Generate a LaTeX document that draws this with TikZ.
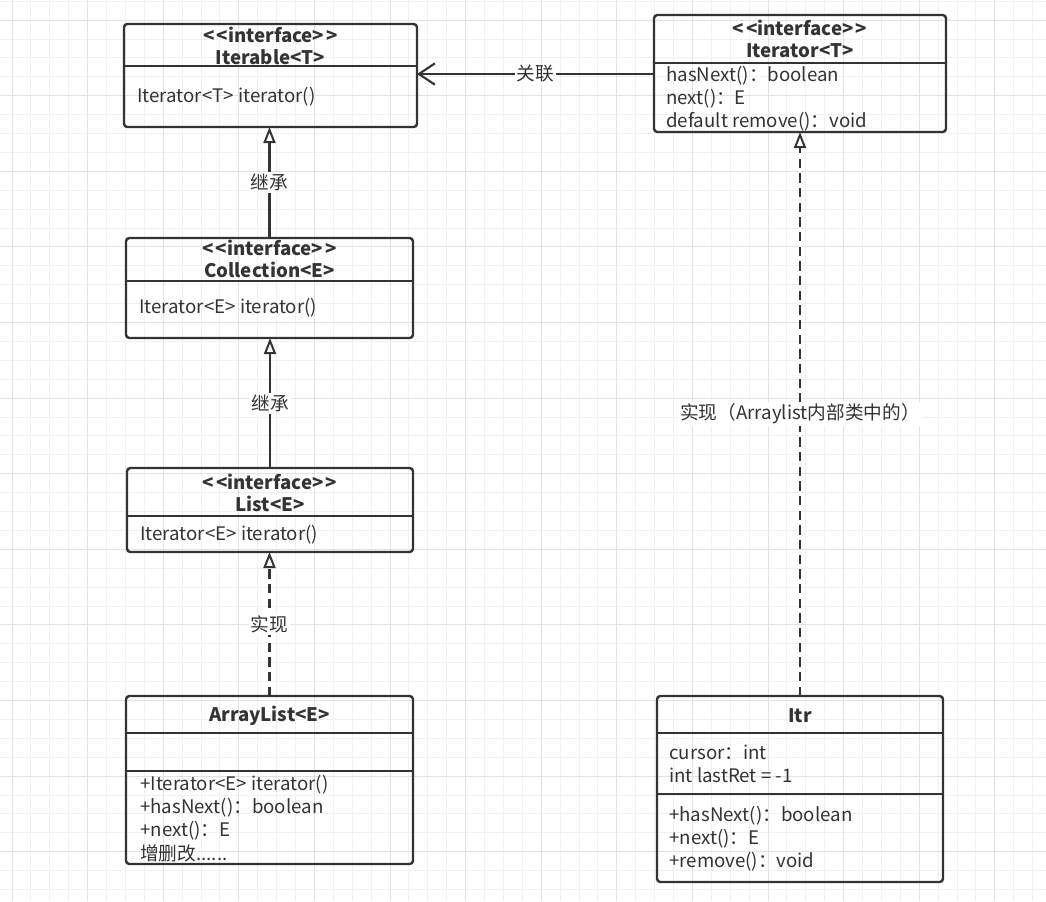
\documentclass[tikz,border=0pt]{standalone}
\usepackage{fontspec}
\setmainfont{Noto Sans CJK SC}[Ligatures=TeXOff]
\usetikzlibrary{arrows.meta,fit}
\definecolor{umlink}{HTML}{333333}
\definecolor{gridminor}{HTML}{F1F1F1}
\definecolor{gridmajor}{HTML}{E2E2E2}
\newcommand{\umlfont}{\fontsize{14}{17.4}\selectfont}
\newcommand{\stereo}{<\kern1.5pt<interface>\kern1.5pt>}
\tikzset{
  classbox/.style={draw=umlink, line width=1.8pt, rounded corners=2.5pt,
    inner sep=0pt, outer sep=0pt},
  divider/.style={draw=umlink, line width=1.3pt},
  head/.style={font=\fontsize{14}{16.5}\selectfont\bfseries, text=umlink, align=center, inner sep=0pt},
  member/.style={font=\umlfont, text=umlink, align=left, anchor=west, inner sep=0pt},
  edgelabel/.style={font=\umlfont, text=umlink, fill=white, inner sep=1.5pt},
  inherit/.style={draw=umlink, line width=1.8pt,
    -{Triangle[open, length=12pt, width=9pt, line width=1.5pt]}},
  realize/.style={inherit, dash pattern=on 7pt off 4pt},
  assoc/.style={draw=umlink, line width=1.8pt,
    -{Straight Barb[length=12pt, width=16pt, line width=1.6pt]}}
}
\begin{document}
\begin{tikzpicture}[x=0.75pt, y=-0.75pt]
  \useasboundingbox[fill=white] (0,0) rectangle (1046,901);
  % background grid
  \foreach \gx in {12,30.9,...,1046} \draw[gridminor, line width=0.75pt] (\gx,0) -- (\gx,901);
  \foreach \gy in {1.2,20.1,...,901} \draw[gridminor, line width=0.75pt] (0,\gy) -- (1046,\gy);
  \foreach \gx in {12,87.6,...,1046} \draw[gridmajor, line width=0.75pt] (\gx,0) -- (\gx,901);
  \foreach \gy in {20.1,95.7,...,901} \draw[gridmajor, line width=0.75pt] (0,\gy) -- (1046,\gy);

  % interfaces
  \node[classbox, fit={(124,24) (417,127)}] (iterable) {};
  \draw[divider] (iterable.west |- 0,66) -- (iterable.east |- 0,66);
  \node[head] (iterablehead) at (270.5,46) {\stereo\\Iterable<T>};
  \node[member] (iterablebody) at (137,97) {Iterator<T> iterator()};

  \node[classbox, fit={(654,15) (946,132)}] (iterator) {};
  \draw[divider] (iterator.west |- 0,63) -- (iterator.east |- 0,63);
  \node[head] (iteratorhead) at (800,38.5) {\stereo\\Iterator<T>};
  \node[member] (iteratorbody) at (666,98.5) {hasNext()：boolean\\next()：E\\default remove()：void};

  \node[classbox, fit={(126,238) (413,338)}] (collection) {};
  \draw[divider] (collection.west |- 0,281) -- (collection.east |- 0,281);
  \node[head] (collectionhead) at (269.5,258.5) {\stereo\\Collection<E>};
  \node[member] (collectionbody) at (139,308) {Iterator<E> iterator()};

  \node[classbox, fit={(127,468) (413,552)}] (list) {};
  \draw[divider] (list.west |- 0,516) -- (list.east |- 0,516);
  \node[head] (listhead) at (270,492.5) {\stereo\\List<E>};
  \node[member] (listbody) at (140,535) {Iterator<E> iterator()};

  % classes
  \node[classbox, fit={(126,696) (413,864)}] (arraylist) {};
  \draw[divider] (arraylist.west |- 0,733) -- (arraylist.east |- 0,733);
  \draw[divider] (arraylist.west |- 0,771) -- (arraylist.east |- 0,771);
  \node[head] (arraylisthead) at (269.5,716) {ArrayList<E>};
  \node[member] (arraylistbody) at (140,818.5) {+Iterator<E> iterator()\\+hasNext()：boolean\\+next()：E\\增删改......};

  \node[classbox, fit={(657,696) (943,882)}] (itr) {};
  \draw[divider] (itr.west |- 0,733) -- (itr.east |- 0,733);
  \draw[divider] (itr.west |- 0,794) -- (itr.east |- 0,794);
  \node[head] (itrhead) at (800,716) {Itr};
  \node[member] (itrfields) at (669,763.5) {cursor：int\\int lastRet = -1};
  \node[member] (itrmethods) at (669,838.5) {+hasNext()：boolean\\+next()：E\\+remove()：void};

  % relations
  \draw[assoc] (iterator.west |- 0,74) -- node[edgelabel] (assoclabel) {关联} (iterable.east |- 0,74);
  \draw[inherit] (collection.north) -- node[edgelabel] (inheritone) {继承} (collection.north |- iterable.south);
  \draw[inherit] (list.north) -- node[edgelabel] (inherittwo) {继承} (list.north |- collection.south);
  \draw[realize] (arraylist.north) -- node[edgelabel] (realizeone) {实现} (arraylist.north |- list.south);
  \draw[realize] (itr.north) -- node[edgelabel] (realizetwo) {实现（Arraylist内部类中的）} (itr.north |- iterator.south);
\end{tikzpicture}
\end{document}
